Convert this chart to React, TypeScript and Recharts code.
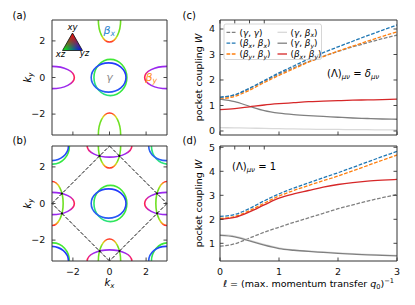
import React from 'react';
import { ComposedChart, LineChart, Line, XAxis, YAxis, ReferenceArea, ReferenceLine, Scatter } from 'recharts';

const PI = Math.PI;
const W = 415;
const H = 305;
const FONT = 'DejaVu Sans, sans-serif';
const AXIS = '#333333';

// ---------------- coupling curves, panel (c) and (d) ----------------
const ell = [0, 0.25, 0.5, 0.75, 1, 1.25, 1.5, 1.75, 2, 2.25, 2.5, 2.75, 3];

const cGG = [1.31, 1.41, 1.66, 1.95, 2.23, 2.48, 2.72, 2.93, 3.12, 3.3, 3.46, 3.62, 3.76];
const cBxBx = [1.33, 1.42, 1.68, 1.98, 2.28, 2.55, 2.82, 3.07, 3.3, 3.52, 3.74, 3.95, 4.16];
const cByBy = [1.25, 1.36, 1.6, 1.9, 2.18, 2.44, 2.7, 2.92, 3.13, 3.33, 3.52, 3.71, 3.89];
const cGBx = [0.13, 0.125, 0.115, 0.1, 0.09, 0.08, 0.07, 0.065, 0.06, 0.055, 0.05, 0.045, 0.04];
const cGBy = [1.25, 1.15, 0.97, 0.8, 0.7, 0.64, 0.6, 0.57, 0.54, 0.51, 0.49, 0.47, 0.46];
const cBxBy = [0.84, 0.88, 0.95, 1.02, 1.07, 1.11, 1.15, 1.17, 1.19, 1.21, 1.22, 1.23, 1.25];

const dGG = [0.88, 0.98, 1.22, 1.46, 1.67, 1.87, 2.06, 2.25, 2.44, 2.6, 2.76, 2.9, 3.03];
const dBxBx = [2.12, 2.2, 2.45, 2.77, 3.06, 3.3, 3.52, 3.73, 3.94, 4.16, 4.39, 4.61, 4.83];
const dByBy = [2.04, 2.12, 2.36, 2.67, 2.97, 3.2, 3.41, 3.61, 3.8, 4.02, 4.24, 4.46, 4.68];
const dGBx = [1.36, 1.3, 1.13, 0.95, 0.81, 0.73, 0.68, 0.64, 0.6, 0.57, 0.54, 0.52, 0.5];
const dGBy = [1.33, 1.27, 1.1, 0.92, 0.78, 0.71, 0.66, 0.62, 0.58, 0.55, 0.52, 0.5, 0.48];
const dBxBy = [2.0, 2.08, 2.31, 2.6, 2.88, 3.06, 3.2, 3.34, 3.45, 3.53, 3.59, 3.63, 3.66];

const seriesKeys = ['gg', 'bxbx', 'byby', 'gbx', 'gby', 'bxby'];
const seriesColors = ['#808080', '#1f77b4', '#ff7f0e', '#d9d9d9', '#808080', '#d62728'];
const seriesDashed = [true, true, true, false, false, false];

type Part = { t: string; i?: boolean; s?: 'sub' | 'sup' };
const G: Part = { t: 'γ', i: true };
const BX: Part[] = [{ t: 'β', i: true }, { t: 'x', i: true, s: 'sub' }];
const BY: Part[] = [{ t: 'β', i: true }, { t: 'y', i: true, s: 'sub' }];
const pair = (a: Part[], b: Part[]): Part[] => [{ t: '(' }, ...a, { t: ', ' }, ...b, { t: ')' }];
const seriesLabels: Part[][] = [
  pair([G], [G]),
  pair(BX, BX),
  pair(BY, BY),
  pair([G], BX),
  pair([G], BY),
  pair(BX, BY),
];

const buildRows = (cols: number[][]) =>
  ell.map((l, i) => {
    const r: any = { l };
    seriesKeys.forEach((k, j) => {
      r[k] = cols[j][i];
    });
    return r;
  });
const rowsC = buildRows([cGG, cBxBx, cByBy, cGBx, cGBy, cBxBy]);
const rowsD = buildRows([dGG, dBxBx, dByBy, dGBx, dGBy, dBxBy]);

// ---------------- Fermi pockets, panel (a) and (b) ----------------
type Pocket = { cx: number; cy: number; ax: number; ay: number; grad: string };
const gammaOuter = { ax: 0.9, ay: 0.99, dx: 0.05, grad: 'gradGo' };
const gammaInner = { ax: 0.95, ay: 0.8, dx: -0.05, grad: 'gradGi' };
const betaXShape = { ax: 0.61, ay: 1.2 };
const betaYShape = { ax: 1.22, ay: 0.61 };
const gammaCentres = [[0, 0]];
const betaXCentres = [[0, PI], [0, -PI]];
const betaYCentres = [[-PI, 0], [PI, 0]];
const foldedGammaCentres = [[-PI, PI], [PI, PI], [-PI, -PI], [PI, -PI]];
const foldedBetaXCentres = [[-PI, 0], [PI, 0]];
const foldedBetaYCentres = [[0, PI], [0, -PI]];
const zoneBoundary = [[0, PI], [PI, 0], [0, -PI], [-PI, 0]];
const crossings = [
  { x: 0.54, y: 2.6 }, { x: -0.54, y: 2.6 }, { x: 0.54, y: -2.6 }, { x: -0.54, y: -2.6 },
  { x: 2.6, y: 0.54 }, { x: 2.6, y: -0.54 }, { x: -2.6, y: 0.54 }, { x: -2.6, y: -0.54 },
];

const gammaPockets = (centres: number[][]): Pocket[] =>
  centres.flatMap(([cx, cy]) => [
    { cx: cx + gammaOuter.dx, cy, ax: gammaOuter.ax, ay: gammaOuter.ay, grad: gammaOuter.grad },
    { cx: cx + gammaInner.dx, cy, ax: gammaInner.ax, ay: gammaInner.ay, grad: gammaInner.grad },
  ]);
const betaPockets = (centres: number[][], shape: { ax: number; ay: number }, grad: string): Pocket[] =>
  centres.map(([cx, cy]) => ({ cx, cy, ...shape, grad }));

const pocketsA: Pocket[] = [
  ...gammaPockets(gammaCentres),
  ...betaPockets(betaXCentres, betaXShape, 'gradBx'),
  ...betaPockets(betaYCentres, betaYShape, 'gradBy'),
];
const pocketsB: Pocket[] = [
  ...pocketsA,
  ...gammaPockets(foldedGammaCentres),
  ...betaPockets(foldedBetaXCentres, betaXShape, 'gradBx'),
  ...betaPockets(foldedBetaYCentres, betaYShape, 'gradBy'),
];

// ---------------- helpers ----------------
const minus = (v: number) => (v < 0 ? `\u2212${-v}` : `${v}`);
const blank = () => '';
const tickStyle = { fontSize: 9.5, fill: '#111', fontFamily: FONT };
const axisCommon: any = {
  type: 'number',
  allowDataOverflow: true,
  interval: 0,
  tickSize: -3.5,
  stroke: AXIS,
  tick: tickStyle,
  axisLine: { stroke: AXIS, strokeWidth: 1 },
  tickLine: { stroke: AXIS, strokeWidth: 0.9 },
};

function MathText({ x, y, parts, size = 10, anchor = 'start', fill = '#000', rotate }: any) {
  let cur = 0;
  const transform = rotate ? `rotate(${rotate} ${x} ${y})` : undefined;
  return (
    <text x={x} y={y} fontSize={size} textAnchor={anchor} fill={fill} transform={transform} fontFamily={FONT} style={{ whiteSpace: 'pre' }}>
      {parts.map((p: Part, k: number) => {
        const off = p.s === 'sub' ? size * 0.22 : p.s === 'sup' ? -size * 0.42 : 0;
        const dy = off - cur;
        cur = off;
        return (
          <tspan key={k} dy={dy || undefined} fontStyle={p.i ? 'italic' : 'normal'} fontSize={p.s ? size * 0.7 : size}>
            {p.t}
          </tspan>
        );
      })}
    </text>
  );
}

const ellipseShape = (grad: string, clip: string) => (p: any) => {
  const w = Math.abs(p.width);
  const h = Math.abs(p.height);
  const x = Math.min(p.x, p.x + p.width);
  const y = Math.min(p.y, p.y + p.height);
  return (
    <ellipse cx={x + w / 2} cy={y + h / 2} rx={w / 2} ry={h / 2} fill="none" stroke={`url(#${grad})`} strokeWidth={1.6} clipPath={`url(#${clip})`} />
  );
};

const L_LEFT = 52;
const R_LEFT = 167;
const L_RIGHT = 220;
const R_RIGHT = 397;
const TOP_ROW = 20;
const BOTTOM_ROW = 146;
const PLOT_H = 115;

function PocketPanel({ top, pockets, showX, folded, clip }: any) {
  const B = top + PLOT_H;
  return (
    <div style={{ position: 'absolute', left: 0, top: 0 }}>
      <ComposedChart width={W} height={H} margin={{ left: L_LEFT - 1, right: W - R_LEFT - 1, top: top - 1, bottom: H - B - 1 }}>
        <XAxis dataKey="x" {...axisCommon} domain={[-PI, PI]} ticks={[-2, 0, 2]} height={1} tickMargin={10.5} tickFormatter={showX ? minus : blank} />
        <XAxis xAxisId="top" orientation="top" {...axisCommon} domain={[-PI, PI]} ticks={[-2, 0, 2]} height={1} tickFormatter={blank} />
        <YAxis dataKey="y" {...axisCommon} domain={[-PI, PI]} ticks={[-2, 0, 2]} width={1} tickMargin={10.2} tickFormatter={minus} />
        <YAxis yAxisId="right" orientation="right" {...axisCommon} domain={[-PI, PI]} ticks={[-2, 0, 2]} width={1} tickFormatter={blank} />
        {pockets.map((p: Pocket, i: number) => (
          <ReferenceArea key={i} x1={p.cx - p.ax} x2={p.cx + p.ax} y1={p.cy - p.ay} y2={p.cy + p.ay} ifOverflow="visible" shape={ellipseShape(p.grad, clip)} />
        ))}
        {folded &&
          zoneBoundary.map((a, i) => {
            const b = zoneBoundary[(i + 1) % zoneBoundary.length];
            return (
              <ReferenceLine
                key={'zb' + i}
                segment={[{ x: a[0], y: a[1] }, { x: b[0], y: b[1] }]}
                stroke="#111"
                strokeWidth={1}
                strokeDasharray="3.7 1.6"
                ifOverflow="visible"
              />
            );
          })}
        {folded && (
          <Scatter
            data={crossings}
            dataKey="y"
            isAnimationActive={false}
            shape={(p: any) => <circle cx={p.cx} cy={p.cy} r={1.1} fill="#111" />}
          />
        )}
      </ComposedChart>
    </div>
  );
}

function CouplingPanel({ top, rows, yDomain, yTicks, showX }: any) {
  const B = top + PLOT_H;
  return (
    <div style={{ position: 'absolute', left: 0, top: 0 }}>
      <LineChart width={W} height={H} data={rows} margin={{ left: L_RIGHT - 1, right: W - R_RIGHT - 1, top: top - 1, bottom: H - B - 1 }}>
        <XAxis dataKey="l" {...axisCommon} domain={[0, 3]} ticks={[0, 1, 2, 3]} height={1} tickMargin={10.5} tickFormatter={showX ? (v: number) => `${v}` : blank} />
        <XAxis xAxisId="top" orientation="top" {...axisCommon} domain={[0, 3]} ticks={[0, 1, 2, 3]} height={1} tickFormatter={blank} />
        <YAxis {...axisCommon} domain={yDomain} ticks={yTicks} width={1} tickMargin={8.5} />
        <YAxis yAxisId="right" orientation="right" {...axisCommon} domain={yDomain} ticks={yTicks} width={1} tickFormatter={blank} />
        {seriesKeys.map((k, j) => (
          <Line
            key={k}
            dataKey={k}
            type="monotone"
            stroke={seriesColors[j]}
            strokeWidth={1.3}
            strokeDasharray={seriesDashed[j] ? '3.7 1.6' : undefined}
            dot={false}
            activeDot={false}
            isAnimationActive={false}
          />
        ))}
      </LineChart>
    </div>
  );
}

function Overlay() {
  const legendRows = [32.3, 43.2, 54];
  const legendCols = [226.5, 277.5];
  return (
    <svg width={W} height={H} style={{ position: 'absolute', left: 0, top: 0, pointerEvents: 'none' }} fontFamily={FONT}>
      <defs>
        <clipPath id="clipPanelA">
          <rect x={L_LEFT} y={TOP_ROW} width={R_LEFT - L_LEFT} height={PLOT_H} />
        </clipPath>
        <clipPath id="clipPanelB">
          <rect x={L_LEFT} y={BOTTOM_ROW} width={R_LEFT - L_LEFT} height={PLOT_H} />
        </clipPath>
        <linearGradient id="gradBx" x1="0" y1="0" x2="0" y2="1">
          <stop offset="0" stopColor="#ff2a2a" />
          <stop offset="0.04" stopColor="#ff8c1a" />
          <stop offset="0.1" stopColor="#c8e01a" />
          <stop offset="0.17" stopColor="#6ee022" />
          <stop offset="0.83" stopColor="#6ee022" />
          <stop offset="0.9" stopColor="#c8e01a" />
          <stop offset="0.96" stopColor="#ff8c1a" />
          <stop offset="1" stopColor="#ff2a2a" />
        </linearGradient>
        <linearGradient id="gradBy" x1="0" y1="0" x2="1" y2="0">
          <stop offset="0" stopColor="#ff2050" />
          <stop offset="0.05" stopColor="#e0209a" />
          <stop offset="0.14" stopColor="#9a28ee" />
          <stop offset="0.86" stopColor="#9a28ee" />
          <stop offset="0.95" stopColor="#e0209a" />
          <stop offset="1" stopColor="#ff2050" />
        </linearGradient>
        <linearGradient id="gradGo" x1="1" y1="0" x2="0" y2="1">
          <stop offset="0" stopColor="#4be830" />
          <stop offset="0.6" stopColor="#33e840" />
          <stop offset="1" stopColor="#22dcb0" />
        </linearGradient>
        <linearGradient id="gradGi" x1="1" y1="0" x2="0" y2="1">
          <stop offset="0" stopColor="#2030ff" />
          <stop offset="1" stopColor="#2a6af0" />
        </linearGradient>
        <linearGradient id="triGB" x1="0" y1="0" x2="1" y2="0">
          <stop offset="0" stopColor="#00ff00" />
          <stop offset="1" stopColor="#0000ff" />
        </linearGradient>
        <linearGradient id="triR" x1="0" y1="0" x2="0" y2="1">
          <stop offset="0" stopColor="#ff0000" stopOpacity="1" />
          <stop offset="1" stopColor="#ff0000" stopOpacity="0" />
        </linearGradient>
      </defs>

      {/* panel letters */}
      <text x={12.5} y={18.5} fontSize={10}>(a)</text>
      <text x={12.5} y={143.5} fontSize={10}>(b)</text>
      <text x={182.5} y={18.5} fontSize={10}>(c)</text>
      <text x={182.5} y={143.5} fontSize={10}>(d)</text>

      {/* axis labels left */}
      <MathText x={30.8} y={77.5} rotate={-90} anchor="middle" size={10} parts={[{ t: 'k', i: true }, { t: 'y', i: true, s: 'sub' }]} />
      <MathText x={30.8} y={203.5} rotate={-90} anchor="middle" size={10} parts={[{ t: 'k', i: true }, { t: 'y', i: true, s: 'sub' }]} />
      <MathText x={109.5} y={286} anchor="middle" size={10} parts={[{ t: 'k', i: true }, { t: 'x', i: true, s: 'sub' }]} />

      {/* axis labels right */}
      <MathText x={202.3} y={77.5} rotate={-90} anchor="middle" size={9.5} parts={[{ t: 'pocket coupling ' }, { t: 'W', i: true }]} />
      <MathText x={202.3} y={203.5} rotate={-90} anchor="middle" size={9.5} parts={[{ t: 'pocket coupling ' }, { t: 'W', i: true }]} />
      <MathText
        x={308.5}
        y={286.5}
        anchor="middle"
        size={9.5}
        parts={[{ t: 'ℓ', i: true }, { t: ' = (max. momentum transfer ' }, { t: 'q', i: true }, { t: '0', s: 'sub' }, { t: ')' }, { t: '\u22121', s: 'sup' }]}
      />

      {/* annotations */}
      <MathText
        x={327}
        y={77}
        size={10}
        parts={[{ t: '(Λ)' }, { t: 'μν', i: true, s: 'sub' }, { t: ' = ' }, { t: 'δ', i: true }, { t: 'μν', i: true, s: 'sub' }]}
      />
      <MathText x={232} y={170} size={10} parts={[{ t: '(Λ)' }, { t: 'μν', i: true, s: 'sub' }, { t: ' = 1' }]} />

      {/* pocket labels */}
      <MathText x={109.5} y={80.5} anchor="middle" size={11} fill="#8c8c8c" parts={[G]} />
      <MathText x={103.5} y={33.5} size={11} fill="#2a85d0" parts={BX} />
      <MathText x={145.5} y={80.5} size={11} fill="#ff8c1a" parts={BY} />

      {/* orbital colour triangle */}
      <polygon points="72.5,33 62.5,50.5 82.5,50.5" fill="url(#triGB)" />
      <polygon points="72.5,33 62.5,50.5 82.5,50.5" fill="url(#triR)" stroke="#111" strokeWidth={0.8} />
      <text x={72.5} y={29.5} fontSize={8.5} fontStyle="italic" textAnchor="middle">xy</text>
      <text x={60.5} y={57} fontSize={8.5} fontStyle="italic" textAnchor="middle">xz</text>
      <text x={84.5} y={55.8} fontSize={8.5} fontStyle="italic" textAnchor="middle">yz</text>

      {/* legend of panel (c) */}
      <rect x={224} y={24} width={97.5} height={35.5} rx={2} fill="#fff" fillOpacity={0.8} stroke="#cccccc" strokeWidth={0.8} />
      {seriesKeys.map((k, j) => {
        const col = Math.floor(j / 3);
        const row = j % 3;
        const lx = legendCols[col];
        const ly = legendRows[row];
        return (
          <g key={k}>
            <line x1={lx} x2={lx + 9.5} y1={ly} y2={ly} stroke={seriesColors[j]} strokeWidth={1.3} strokeDasharray={seriesDashed[j] ? '3.7 1.6' : undefined} />
            <MathText x={lx + 13} y={ly + 3.2} size={8.8} parts={seriesLabels[j]} />
          </g>
        );
      })}
    </svg>
  );
}

export default function App() {
  return (
    <div style={{ position: 'absolute', left: 0, top: 0, width: W, height: H, background: '#fff', overflow: 'hidden', fontFamily: FONT }}>
      <PocketPanel top={TOP_ROW} pockets={pocketsA} showX={false} folded={false} clip="clipPanelA" />
      <PocketPanel top={BOTTOM_ROW} pockets={pocketsB} showX={true} folded={true} clip="clipPanelB" />
      <CouplingPanel top={TOP_ROW} rows={rowsC} yDomain={[-0.157, 4.353]} yTicks={[0, 1, 2, 3, 4]} showX={false} />
      <CouplingPanel top={BOTTOM_ROW} rows={rowsD} yDomain={[0.2625, 5.054]} yTicks={[1, 2, 3, 4, 5]} showX={true} />
      <Overlay />
    </div>
  );
}
